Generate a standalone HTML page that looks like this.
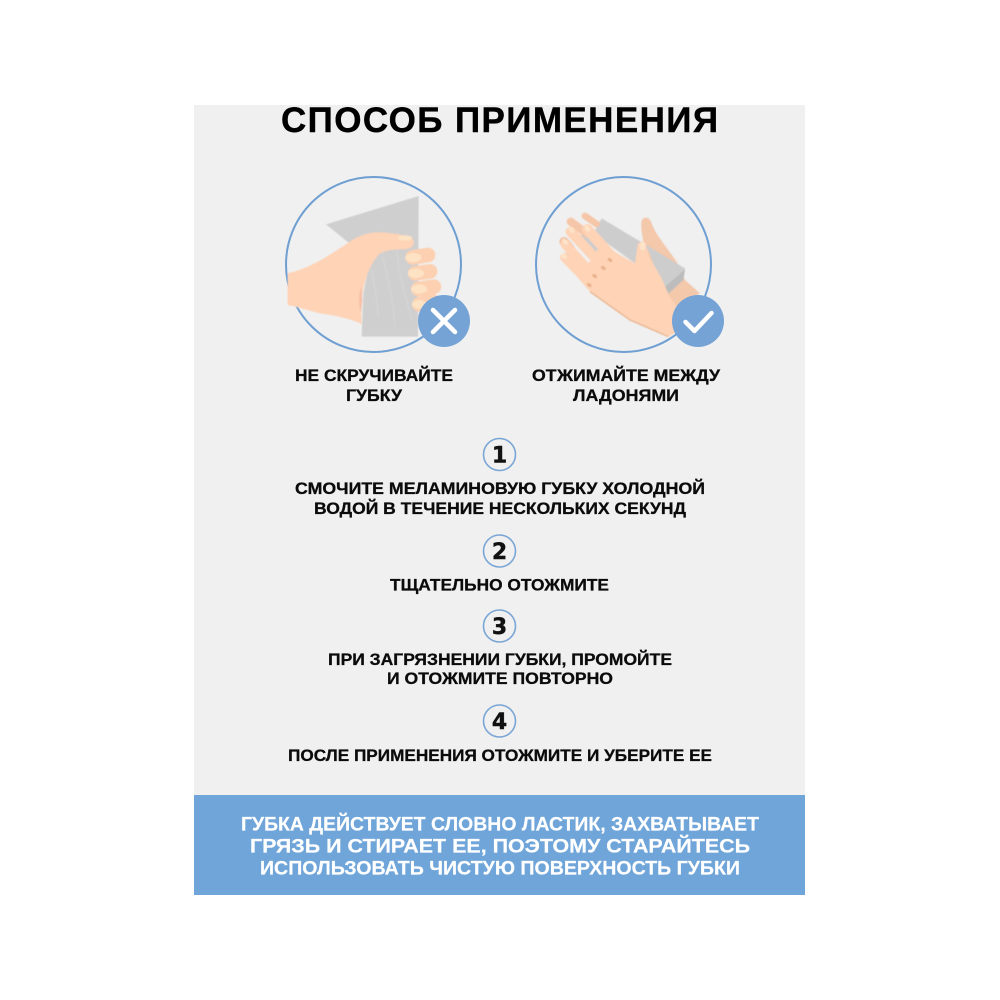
<!DOCTYPE html>
<html lang="ru"><head><meta charset="utf-8"><title>Способ применения</title>
<style>html,body{margin:0;padding:0;background:#fff}svg{display:block}
text{font-family:"Liberation Sans","DejaVu Sans",sans-serif;font-weight:700;text-anchor:start}
.b{font-size:17px;fill:#0b0b0b;stroke:#0b0b0b;stroke-width:.3}
.w{font-size:19px;fill:#fff;stroke:#fff;stroke-width:.2}
.n{font-family:"DejaVu Sans",sans-serif;font-size:22px;fill:#111;stroke:#111;stroke-width:.4;text-anchor:middle}
</style></head><body>
<svg width="1000" height="1000" viewBox="0 0 1000 1000" xmlns="http://www.w3.org/2000/svg">
<defs><filter id="s" x="-5%" y="-5%" width="110%" height="110%"><feGaussianBlur stdDeviation="1.200"/></filter></defs>
<rect width="1000" height="1000" fill="#fff"/>
<rect x="194" y="105" width="611" height="690" fill="#f0f0f0"/>
<rect x="194" y="795" width="611" height="100" fill="#6fa5d9"/>
<text x="281" y="132" font-size="35" textLength="437" lengthAdjust="spacing" fill="#000" stroke="#000" stroke-width=".4">СПОСОБ ПРИМЕНЕНИЯ</text>

<!-- left -->
<circle cx="373.500" cy="264.500" r="87.500" fill="none" stroke="#6f9fd2" stroke-width="2"/>
<g transform="translate(270,160) scale(.33333)" filter="url(#s)">
<path d="M168 193L446 108L444 530H275L280 400L300 300Z" fill="#cfcfcf"/>
<g fill="none" stroke="#dadada" stroke-width="2"><path d="M335 275C350 340 370 420 375 500"/><path d="M380 270C385 340 410 420 425 480"/><path d="M305 330C315 380 322 420 325 470"/></g>
<path d="M53 340C120 325 170 290 225 255C260 228 300 212 345 218C380 222 415 225 430 240C436 255 425 268 400 268C370 268 340 270 325 285C295 320 280 370 273 430L275 492C240 475 190 465 150 460C110 450 80 440 53 435Z" fill="#fed3b6"/>
<path d="M275 380C266 400 264 430 273 460L277 420Z" fill="#f6bfa8"/>
<g fill="none" stroke="#fdd0b1" stroke-linecap="round" stroke-width="44"><path d="M428 292L474 285"/><path d="M436 340L480 334"/><path d="M445 387L492 380"/><path d="M448 433L485 422"/></g>
<g fill="#fde3c4"><ellipse cx="430" cy="293" rx="24" ry="14"/><ellipse cx="438" cy="340" rx="24" ry="14"/><ellipse cx="447" cy="387" rx="24" ry="14"/><ellipse cx="448" cy="433" rx="22" ry="13"/><ellipse cx="405" cy="234" rx="22" ry="8"/></g>
</g>
<circle cx="444" cy="321" r="26" fill="#75a3d6"/>
<path d="M433 310L455 332M455 310L433 332" stroke="#fff" stroke-width="4.500" stroke-linecap="round"/>

<!-- right -->
<circle cx="623.500" cy="264.500" r="87.500" fill="none" stroke="#6f9fd2" stroke-width="2"/>
<g transform="translate(550,200) scale(.33333)" filter="url(#s)">
<path d="M275 62C280 48 298 48 305 70C315 100 345 135 380 185L405 240L450 280L380 320L355 290L290 170C282 130 270 90 275 62Z" fill="#f3c8ab"/>
<path d="M155 55L405 205L400 240L350 285L325 230L295 150L255 190L130 100Z" fill="#cdcdcd"/>
<path d="M405 208L400 240L350 285L343 262Z" fill="#bcbcbc"/>
<path d="M100 100L165 160L130 185L70 125ZM60 135L100 205L90 210L45 165Z" fill="#cdcdcd"/>
<g fill="none" stroke-linecap="round">
<path d="M105 48L140 72" stroke="#f5c6a8" stroke-width="20"/>
<path d="M62 65L110 100" stroke="#f5c6a8" stroke-width="24"/>
<path d="M42 125L60 145" stroke="#f2bfa2" stroke-width="28"/>
<g stroke="#fed3b6"><path d="M112 88L190 175" stroke-width="32"/><path d="M62 95L150 190" stroke-width="30"/><path d="M45 132L125 220" stroke-width="28"/><path d="M44 172L120 250" stroke-width="28"/></g>
</g>
<path d="M155 130L215 168L255 190L263 135C270 120 285 122 288 135L297 170L335 235L358 288L385 330L378 398L355 410L240 360L120 275L85 235Z" fill="#fed3b6"/>
<path d="M120 275L240 360L355 410" fill="none" stroke="#e9b592" stroke-width="4"/>
<g fill="#e8b08b"><ellipse cx="180" cy="180" rx="8" ry="5" transform="rotate(35 180 180)"/><ellipse cx="160" cy="204" rx="8" ry="5" transform="rotate(35 160 204)"/><ellipse cx="134" cy="228" rx="8" ry="5" transform="rotate(35 134 228)"/><ellipse cx="118" cy="255" rx="8" ry="5" transform="rotate(35 118 255)"/></g>
<g fill="#fde3c8"><ellipse cx="278" cy="138" rx="9" ry="13"/><ellipse cx="112" cy="85" rx="11" ry="7" transform="rotate(50 112 85)"/><ellipse cx="65" cy="90" rx="11" ry="7" transform="rotate(50 65 90)"/><ellipse cx="45" cy="125" rx="11" ry="7" transform="rotate(50 45 125)"/><ellipse cx="42" cy="168" rx="11" ry="7" transform="rotate(50 42 168)"/></g>
</g>
<circle cx="698" cy="321" r="26" fill="#75a3d6"/>
<path d="M685.500 322L694.500 331L711.500 313" fill="none" stroke="#fff" stroke-width="4.500" stroke-linecap="round" stroke-linejoin="round"/>

<text class="b" x="295" y="381" textLength="158" lengthAdjust="spacingAndGlyphs">НЕ СКРУЧИВАЙТЕ</text>
<text class="b" x="346" y="401" textLength="56" lengthAdjust="spacingAndGlyphs">ГУБКУ</text>
<text class="b" x="532" y="381" textLength="188" lengthAdjust="spacingAndGlyphs">ОТЖИМАЙТЕ МЕЖДУ</text>
<text class="b" x="573" y="401" textLength="106" lengthAdjust="spacingAndGlyphs">ЛАДОНЯМИ</text>

<g fill="none" stroke="#7aa6d6" stroke-width="1.600"><circle cx="499.500" cy="454.500" r="16"/><circle cx="499.500" cy="551" r="16"/><circle cx="499.500" cy="626" r="16"/><circle cx="499.500" cy="721" r="16"/></g>
<text class="n" x="499.500" y="462.500">1</text><text class="n" x="499.500" y="559">2</text><text class="n" x="499.500" y="634">3</text><text class="n" x="499.500" y="729">4</text>

<text class="b" x="295" y="494" textLength="410" lengthAdjust="spacingAndGlyphs">СМОЧИТЕ МЕЛАМИНОВУЮ ГУБКУ ХОЛОДНОЙ</text>
<text class="b" x="314" y="514" textLength="372" lengthAdjust="spacingAndGlyphs">ВОДОЙ В ТЕЧЕНИЕ НЕСКОЛЬКИХ СЕКУНД</text>
<text class="b" x="390" y="590.500" textLength="219" lengthAdjust="spacingAndGlyphs">ТЩАТЕЛЬНО ОТОЖМИТЕ</text>
<text class="b" x="328" y="665" textLength="344" lengthAdjust="spacingAndGlyphs">ПРИ ЗАГРЯЗНЕНИИ ГУБКИ, ПРОМОЙТЕ</text>
<text class="b" x="387" y="684" textLength="226" lengthAdjust="spacingAndGlyphs">И ОТОЖМИТЕ ПОВТОРНО</text>
<text class="b" x="288" y="761" textLength="424" lengthAdjust="spacingAndGlyphs">ПОСЛЕ ПРИМЕНЕНИЯ ОТОЖМИТЕ И УБЕРИТЕ ЕЕ</text>

<text class="w" x="241" y="830.500" textLength="518" lengthAdjust="spacingAndGlyphs">ГУБКА ДЕЙСТВУЕТ СЛОВНО ЛАСТИК, ЗАХВАТЫВАЕТ</text>
<text class="w" x="250" y="852.500" textLength="500" lengthAdjust="spacingAndGlyphs">ГРЯЗЬ И СТИРАЕТ ЕЕ, ПОЭТОМУ СТАРАЙТЕСЬ</text>
<text class="w" x="260" y="874.500" textLength="480" lengthAdjust="spacingAndGlyphs">ИСПОЛЬЗОВАТЬ ЧИСТУЮ ПОВЕРХНОСТЬ ГУБКИ</text>
</svg>
</body></html>
